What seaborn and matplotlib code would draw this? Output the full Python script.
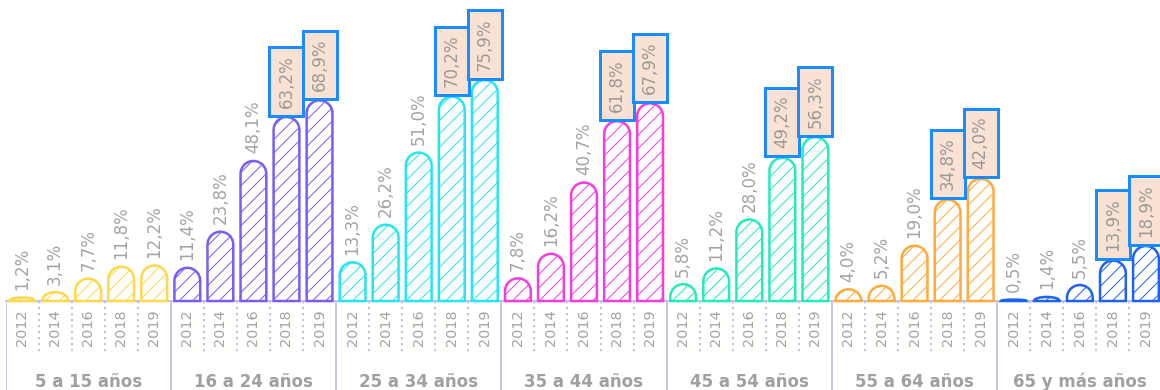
import pandas as pd
import seaborn as sns
import matplotlib
matplotlib.use('Agg')
import matplotlib.pyplot as plt
from matplotlib.path import Path
from matplotlib.patches import PathPatch

# Data
groups = ['5 a 15 años', '16 a 24 años', '25 a 34 años', '35 a 44 años',
          '45 a 54 años', '55 a 64 años', '65 y más años']
years = ['2012', '2014', '2016', '2018', '2019']
v_05_15 = [1.2, 3.1, 7.7, 11.8, 12.2]
v_16_24 = [11.4, 23.8, 48.1, 63.2, 68.9]
v_25_34 = [13.3, 26.2, 51.0, 70.2, 75.9]
v_35_44 = [7.8, 16.2, 40.7, 61.8, 67.9]
v_45_54 = [5.8, 11.2, 28.0, 49.2, 56.3]
v_55_64 = [4.0, 5.2, 19.0, 34.8, 42.0]
v_65_up = [0.5, 1.4, 5.5, 13.9, 18.9]
# boxed labels: 2018 and 2019, every group except the first
highlight_years = ['2018', '2019']
highlight_groups = groups[1:]
colors = ['#ffd84a', '#7b5cf5', '#22e6f2', '#f23ee0', '#22ecbc', '#ffaa3a', '#1f62f0']

all_values = [v_05_15, v_16_24, v_25_34, v_35_44, v_45_54, v_55_64, v_65_up]
rows = []
for g, vals in zip(groups, all_values):
    for y, v in zip(years, vals):
        rows.append({'key': f'{g}|{y}', 'group': g, 'year': y, 'value': v})
df = pd.DataFrame(rows)
keys = list(df['key'])

sns.set_style('white')
plt.rcParams['font.family'] = ['DejaVu Sans']
plt.rcParams['hatch.linewidth'] = 0.6

DPI = 120
fig = plt.figure(figsize=(1160 / DPI, 390 / DPI), dpi=DPI)
ax = fig.add_axes([5.5 / 1160, 0, 1157 / 1160, 1])

sns.barplot(data=df, x='key', y='value', hue='group', order=keys, hue_order=groups,
            palette=colors, dodge=False, width=0.78, saturation=1, legend=False,
            errorbar=None, ax=ax)

ax.set_xlim(-0.5, len(keys) - 0.5)
ax.set_ylim(-30.56, 103.4)
ax.axis('off')

# rounded tops
px_x = ax.transData.transform((1, 0))[0] - ax.transData.transform((0, 0))[0]
px_y = ax.transData.transform((0, 1))[1] - ax.transData.transform((0, 0))[1]
for p in list(ax.patches):
    x0, w, h = p.get_x(), p.get_width(), p.get_height()
    col = p.get_facecolor()
    p.remove()
    rx = w / 2
    ry = min(rx * px_x / px_y, h)
    arc = Path.arc(0, 180)
    arc_v = arc.vertices[1:] * [rx, ry] + [x0 + rx, h - ry]
    verts = [(x0 + w, 0), (x0 + w, h - ry)] + [tuple(v) for v in arc_v] + [(x0, 0), (x0 + w, 0)]
    codes = [Path.MOVETO, Path.LINETO] + list(arc.codes[1:]) + [Path.LINETO, Path.CLOSEPOLY]
    ax.add_patch(PathPatch(Path(verts, codes), facecolor='white', edgecolor=col,
                           hatch='///', lw=1.5, zorder=3))

# baseline and separators
ax.plot([-0.5, len(keys) - 0.5], [0, 0], color='#c4c0e8', lw=1.2, zorder=2, clip_on=False)
for k in range(len(keys) + 1):
    xs = k - 0.5
    if k % 5 == 0:
        ax.plot([xs, xs], [0, -31], color='#c8c5e4', lw=1.2, zorder=1)
    else:
        ax.plot([xs, xs], [0, -18.5], color='#b0aae0', lw=0.9, ls=(0, (1.5, 2.5)), zorder=1)

grey = '#a3a3a3'
for i, row in df.iterrows():
    ax.text(i, -9.3, row['year'], rotation=90, ha='center', va='center',
            fontsize=8.6, color=grey)
    label = f"{row['value']:.1f}%".replace('.', ',')
    if row['year'] in highlight_years and row['group'] in highlight_groups:
        ax.annotate(label, (i, row['value']), xytext=(0, 5.6), textcoords='offset points',
                    rotation=90, ha='center', va='bottom', fontsize=10, color='#9a9a9a',
                    bbox=dict(boxstyle='square,pad=0.48', fc='#f9e2d3', ec='#1a8cff', lw=1.8),
                    zorder=5)
    else:
        ax.annotate(label, (i, row['value']), xytext=(0, 4.5), textcoords='offset points',
                    rotation=90, ha='center', va='bottom', fontsize=10, color=grey, zorder=5)

for k, g in enumerate(groups):
    ax.text(5 * k + 2, -29.5, g, ha='center', va='baseline', fontsize=10,
            fontweight='bold', color='#a0a0a0')

fig.savefig('out.png', dpi=DPI)
